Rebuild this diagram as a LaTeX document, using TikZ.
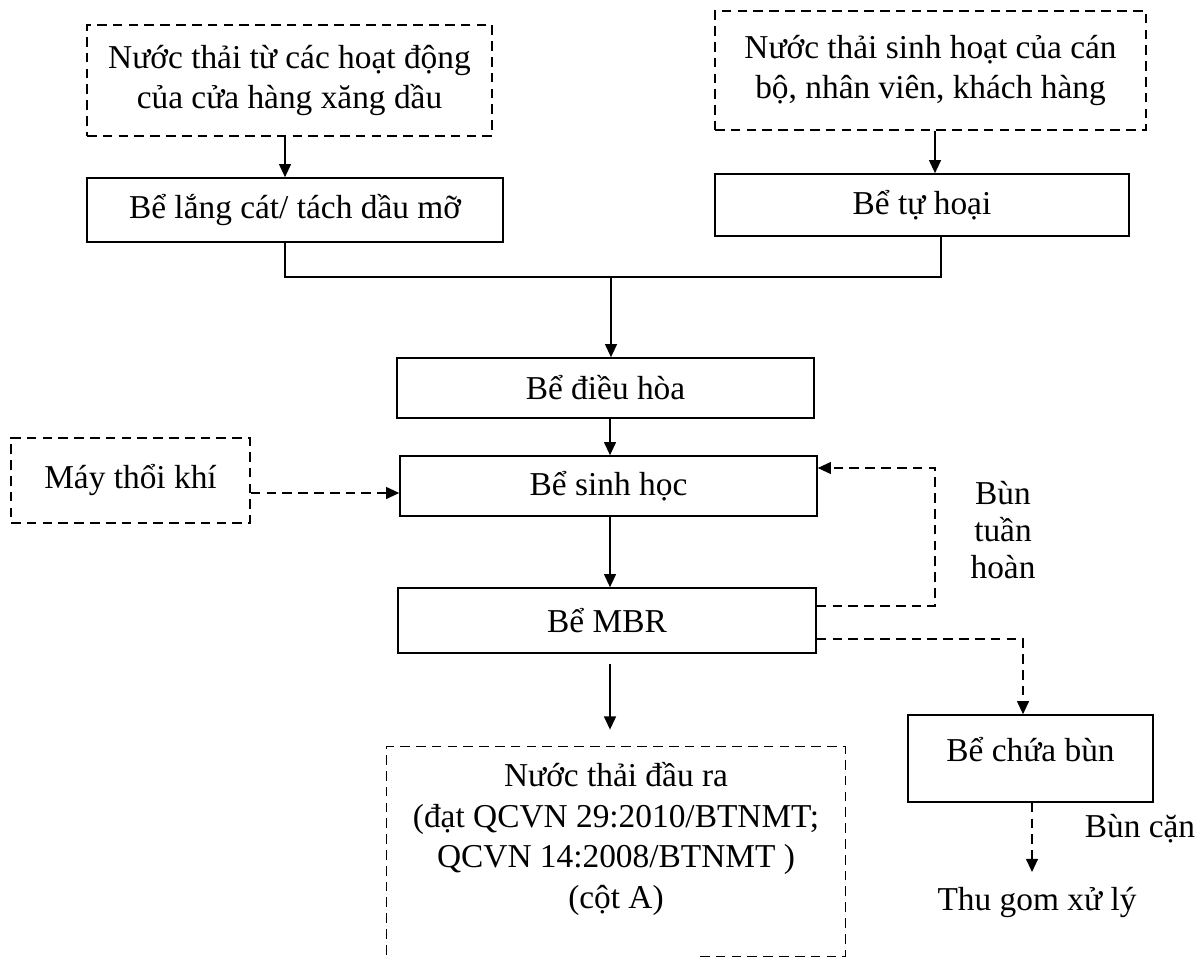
\documentclass[tikz,border=0pt]{standalone}
\usepackage{fontspec}
\setmainfont{Liberation Serif}
\usetikzlibrary{arrows.meta}
\newlength\pxu
\setlength\pxu{0.02cm}
\begin{document}
\begin{tikzpicture}[x=0.02cm,y=-0.02cm,
  every node/.style={font=\fontsize{19}{22.8}\selectfont},
  bx/.style 2 args={draw, line width=0.9pt, rectangle, minimum width=#1*\pxu, minimum height=#2*\pxu, inner sep=0pt, align=center},
  dbx/.style 2 args={bx={#1}{#2}, dash pattern=on 5.5pt off 3.5pt},
  ln/.style={line width=0.9pt},
  dln/.style={ln, dash pattern=on 5.5pt off 3.5pt},
  arr/.style={ln, -{Triangle[length=7.5pt,width=6.8pt]}},
  darr/.style={arr, dash pattern=on 5.5pt off 3.5pt}]
\useasboundingbox (0,0) rectangle (1203,959);

% nodes
\node[dbx={405}{111}] (src1) at (289.5,80.5) {Nước thải từ các hoạt động\\của cửa hàng xăng dầu};
\node[bx={416}{64}] (lang) at (295,210) {Bể lắng cát/ tách dầu mỡ};
\node[dbx={431}{119}] (src2) at (930.5,70.5) {Nước thải sinh hoạt của cán\\bộ, nhân viên, khách hàng};
\node[bx={414}{62}] (tuhoai) at (922,205) {Bể tự hoại};
\node[bx={417}{60}] (dh) at (605.5,388) {Bể điều hòa};
\node[bx={417}{60}] (sh) at (608.5,486) {Bể sinh học};
\node[bx={418}{65}] (mbr) at (607,620.5) {Bể MBR};
\node[dbx={239}{85}] (mtk) at (130.5,480.5) {Máy thổi khí};
\node[bx={245}{87}] (bcb) at (1030.5,758.5) {};
\node (bcbt) at (1030.5,750) {Bể chứa bùn};
\node[align=center, font=\fontsize{19}{21}\selectfont] (btl) at (1003,530) {Bùn\\tuần\\hoàn};
\node[anchor=base] (bc) at (1140,837) {Bùn cặn};
\node[anchor=base] (tg) at (1037,910) {Thu gom xử lý};
\node[minimum width=458*\pxu, minimum height=209*\pxu, inner sep=0pt] (out) at (616,851.5) {};
\node[align=center, font=\fontsize{19}{23.1}\selectfont] (outt) at (616,839) {Nước thải đầu ra\\(đạt QCVN 29:2010/BTNMT;\\QCVN 14:2008/BTNMT )\\(cột A)};

% helper coordinates
\coordinate (a1) at (285,0);
\coordinate (a2) at (935,0);
\coordinate (jl) at (285,277);
\coordinate (jr) at (941,277);
\coordinate (jm) at (611,277);
\coordinate (cx) at (610,0);
\coordinate (ay) at (0,493);
\coordinate (rb) at (935,606);
\coordinate (rt) at (935,468);
\coordinate (sc) at (1023,639);
\coordinate (tx) at (1032,0);
\coordinate (tgtip) at (1032,872);
\coordinate (obx) at (700,0);

% connectors
\draw[arr] (src1.south -| a1) -- (lang.north -| a1);
\draw[arr] (src2.south -| a2) -- (tuhoai.north -| a2);
\draw[ln] (lang.south -| jl) -- (jl) -- (jr) -- (tuhoai.south -| jr);
\draw[arr] (jm) -- (dh.north -| jm);
\draw[arr] (dh.south -| cx) -- (sh.north -| cx);
\draw[arr] (sh.south -| cx) -- (mbr.north -| cx);
\draw[arr, shorten <=5.7pt, shorten >=9.7pt] (mbr.south -| cx) -- (out.north -| cx);
\draw[darr] (mtk.east |- ay) -- (sh.west |- ay);
\draw[darr] (mbr.east |- rb) -- (rb) -- (rt) -- (sh.east |- rt);
\draw[darr] (mbr.east |- sc) -- (sc) -- (bcb.north -| sc);
\draw[darr] (bcb.south -| tx) -- (tgtip);
\draw[dln] (out.south -| obx) -- (out.south east) -- (out.north east) -- (out.north west) -- (out.south west);
\end{tikzpicture}
\end{document}
